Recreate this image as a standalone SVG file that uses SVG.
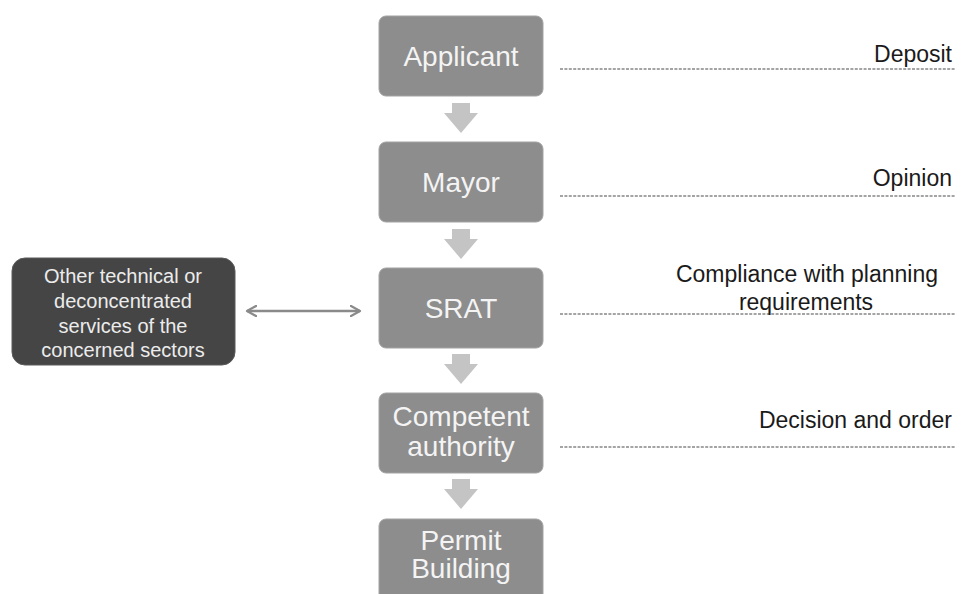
<svg xmlns="http://www.w3.org/2000/svg" width="965" height="594" viewBox="0 0 965 594">
  <defs>
    <style>
      .step { fill: #8d8d8d; stroke: #a3a3a3; stroke-width: 1; }
      .step-text { font-family: "Liberation Sans", Arial, sans-serif; font-size: 28px; fill: #f4f4f4; text-anchor: middle; }
      .side { fill: #454545; stroke: #5a5a5a; stroke-width: 1; }
      .side-text { font-family: "Liberation Sans", Arial, sans-serif; font-size: 20px; fill: #ececec; text-anchor: middle; }
      .flow { fill: #c4c4c4; }
      .link { stroke: #8a8a8a; stroke-width: 2.5; fill: none; }
      .guide { stroke: #4a4a4a; stroke-width: 1.2; stroke-dasharray: 3 1.4; fill: none; }
      .label { font-family: "Liberation Sans", Arial, sans-serif; font-size: 23px; fill: #1a1a1a; }
    </style>
    <marker id="open-head" viewBox="0 0 12 12" refX="10" refY="6" markerWidth="5" markerHeight="5" orient="auto-start-reverse" markerUnits="strokeWidth">
      <path d="M1,1 L10,6 L1,11" fill="none" stroke="#8a8a8a" stroke-width="2.2" stroke-linecap="round" stroke-linejoin="round"/>
    </marker>
  </defs>

  <rect width="965" height="594" fill="#ffffff"/>

  <!-- connectors: flow arrows between the steps, link to the side services -->
  <g id="connectors">
    <path class="flow" d="M452,103 H470 V113 H478 L461,133 L444,113 H452 Z"/>
    <path class="flow" d="M452,229 H470 V239 H478 L461,259 L444,239 H452 Z"/>
    <path class="flow" d="M452,354 H470 V364 H478 L461,384 L444,364 H452 Z"/>
    <path class="flow" d="M452,479 H470 V489 H478 L461,509 L444,489 H452 Z"/>
    <line class="link" x1="247" y1="311" x2="360" y2="311" marker-start="url(#open-head)" marker-end="url(#open-head)"/>
  </g>

  <!-- dotted guide lines with stage labels -->
  <g id="stage-labels">
    <line class="guide" x1="560" y1="69" x2="955" y2="69"/>
    <text class="label" x="952" y="62" text-anchor="end">Deposit</text>
    <line class="guide" x1="560" y1="196" x2="955" y2="196"/>
    <text class="label" x="952" y="186" text-anchor="end">Opinion</text>
    <line class="guide" x1="560" y1="314" x2="955" y2="314"/>
    <text class="label" x="807" y="282" text-anchor="middle" font-size="23.5">Compliance with planning</text>
    <text class="label" x="806" y="310" text-anchor="middle" font-size="23.5">requirements</text>
    <line class="guide" x1="560" y1="447" x2="955" y2="447"/>
    <text class="label" x="952" y="428" text-anchor="end" font-size="22.6">Decision and order</text>
  </g>

  <g id="applicant">
    <rect class="step" x="379" y="16" width="164" height="80" rx="7"/>
    <text class="step-text" x="461" y="66">Applicant</text>
  </g>

  <g id="mayor">
    <rect class="step" x="379" y="142" width="164" height="80" rx="7"/>
    <text class="step-text" x="461" y="192">Mayor</text>
  </g>

  <g id="srat">
    <rect class="step" x="379" y="268" width="164" height="80" rx="7"/>
    <text class="step-text" x="461" y="318">SRAT</text>
  </g>

  <g id="competent-authority">
    <rect class="step" x="379" y="393" width="164" height="80" rx="7"/>
    <text class="step-text" x="461" y="426">Competent</text>
    <text class="step-text" x="461" y="456">authority</text>
  </g>

  <g id="permit-building">
    <rect class="step" x="379" y="519" width="164" height="90" rx="7"/>
    <text class="step-text" x="461" y="550">Permit</text>
    <text class="step-text" x="461" y="578">Building</text>
  </g>

  <g id="other-services">
    <rect class="side" x="12" y="258" width="223" height="107" rx="13"/>
    <text class="side-text" x="123" y="283">Other technical or</text>
    <text class="side-text" x="123" y="308">deconcentrated</text>
    <text class="side-text" x="123" y="333">services of the</text>
    <text class="side-text" x="123" y="357">concerned sectors</text>
  </g>
</svg>
